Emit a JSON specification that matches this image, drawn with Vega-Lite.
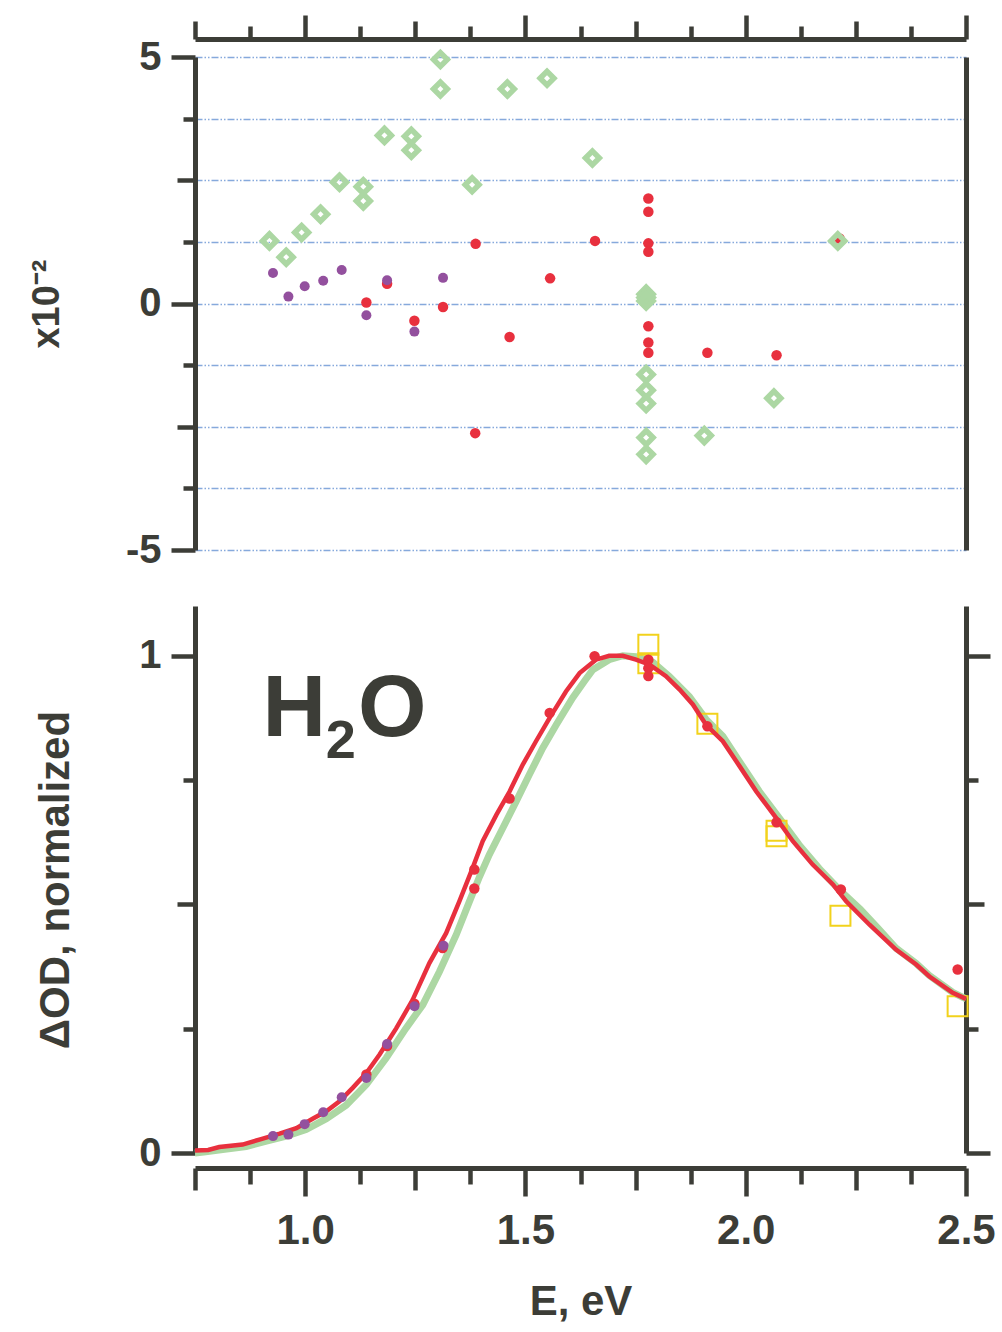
{
  "$schema": "https://vega.github.io/schema/vega-lite/v6.json",
  "background": "white",
  "padding": {"top": 12, "left": 28, "right": 8, "bottom": 8},
  "config": {
    "view": {"stroke": null},
    "font": "Liberation Sans",
    "axis": {
      "domainColor": "#3c3d37", "domainWidth": 5,
      "tickColor": "#3c3d37", "tickWidth": 4.5,
      "labelColor": "#3c3d37", "labelFont": "Liberation Sans", "labelFontSize": 42, "labelFontWeight": "bold",
      "titleColor": "#3c3d37", "titleFont": "Liberation Sans", "titleFontSize": 42, "titleFontWeight": "bold",
      "grid": false, "labelFlush": false, "labelOverlap": false
    }
  },
  "datasets": {
    "resid_green": [
      {"E": 0.919, "r": 1.27}, {"E": 0.957, "r": 0.94}, {"E": 0.992, "r": 1.44}, {"E": 1.035, "r": 1.81},
      {"E": 1.078, "r": 2.46}, {"E": 1.132, "r": 2.37}, {"E": 1.132, "r": 2.08}, {"E": 1.180, "r": 3.41},
      {"E": 1.241, "r": 3.39}, {"E": 1.241, "r": 3.11}, {"E": 1.307, "r": 4.95}, {"E": 1.307, "r": 4.35},
      {"E": 1.379, "r": 2.41}, {"E": 1.459, "r": 4.35}, {"E": 1.549, "r": 4.57}, {"E": 1.652, "r": 2.95},
      {"E": 1.774, "r": 0.19}, {"E": 1.774, "r": 0.12}, {"E": 1.774, "r": 0.05}, {"E": 1.774, "r": -1.44},
      {"E": 1.774, "r": -1.76}, {"E": 1.774, "r": -2.03}, {"E": 1.774, "r": -2.72}, {"E": 1.774, "r": -3.06},
      {"E": 1.906, "r": -2.68}, {"E": 2.064, "r": -1.92}, {"E": 2.209, "r": 1.27}
    ],
    "resid_red": [
      {"E": 1.139, "r": 0.02}, {"E": 1.186, "r": 0.40}, {"E": 1.248, "r": -0.35}, {"E": 1.313, "r": -0.07},
      {"E": 1.387, "r": 1.21}, {"E": 1.386, "r": -2.63}, {"E": 1.464, "r": -0.68}, {"E": 1.556, "r": 0.51},
      {"E": 1.658, "r": 1.27}, {"E": 1.779, "r": 2.13}, {"E": 1.779, "r": 1.86}, {"E": 1.779, "r": 1.22},
      {"E": 1.779, "r": 1.05}, {"E": 1.779, "r": -0.46}, {"E": 1.779, "r": -0.79}, {"E": 1.779, "r": -1.0},
      {"E": 1.913, "r": -1.0}, {"E": 2.070, "r": -1.05}, {"E": 2.213, "r": 1.32}
    ],
    "resid_purple": [
      {"E": 0.927, "r": 0.62}, {"E": 0.962, "r": 0.14}, {"E": 0.999, "r": 0.35}, {"E": 1.041, "r": 0.46},
      {"E": 1.083, "r": 0.68}, {"E": 1.139, "r": -0.24}, {"E": 1.186, "r": 0.47}, {"E": 1.248, "r": -0.57},
      {"E": 1.313, "r": 0.52}
    ],
    "fit_green": [
      {"E": 0.75, "v": 0.0}, {"E": 0.77, "v": 0.002}, {"E": 0.813, "v": 0.007}, {"E": 0.866, "v": 0.013},
      {"E": 0.912, "v": 0.024}, {"E": 0.957, "v": 0.034}, {"E": 1.002, "v": 0.047}, {"E": 1.048, "v": 0.069},
      {"E": 1.093, "v": 0.096}, {"E": 1.139, "v": 0.138}, {"E": 1.184, "v": 0.191}, {"E": 1.229, "v": 0.251},
      {"E": 1.267, "v": 0.298}, {"E": 1.305, "v": 0.365}, {"E": 1.343, "v": 0.439}, {"E": 1.373, "v": 0.506},
      {"E": 1.396, "v": 0.556}, {"E": 1.418, "v": 0.6}, {"E": 1.449, "v": 0.654}, {"E": 1.479, "v": 0.707},
      {"E": 1.509, "v": 0.761}, {"E": 1.539, "v": 0.814}, {"E": 1.57, "v": 0.861}, {"E": 1.607, "v": 0.915},
      {"E": 1.635, "v": 0.95}, {"E": 1.653, "v": 0.972}, {"E": 1.69, "v": 0.992}, {"E": 1.721, "v": 1.0},
      {"E": 1.751, "v": 0.998}, {"E": 1.789, "v": 0.987}, {"E": 1.827, "v": 0.958}, {"E": 1.872, "v": 0.918},
      {"E": 1.91, "v": 0.872}, {"E": 1.948, "v": 0.838}, {"E": 1.986, "v": 0.787}, {"E": 2.031, "v": 0.727},
      {"E": 2.076, "v": 0.674}, {"E": 2.121, "v": 0.62}, {"E": 2.167, "v": 0.572}, {"E": 2.212, "v": 0.53},
      {"E": 2.26, "v": 0.49}, {"E": 2.3, "v": 0.452}, {"E": 2.341, "v": 0.412}, {"E": 2.387, "v": 0.381},
      {"E": 2.417, "v": 0.357}, {"E": 2.47, "v": 0.323}, {"E": 2.5, "v": 0.31}
    ],
    "fit_red": [
      {"E": 0.75, "v": 0.005}, {"E": 0.78, "v": 0.006}, {"E": 0.805, "v": 0.012}, {"E": 0.858, "v": 0.017},
      {"E": 0.90, "v": 0.028}, {"E": 0.942, "v": 0.039}, {"E": 0.98, "v": 0.05}, {"E": 1.017, "v": 0.069},
      {"E": 1.048, "v": 0.084}, {"E": 1.078, "v": 0.104}, {"E": 1.108, "v": 0.131}, {"E": 1.139, "v": 0.161},
      {"E": 1.169, "v": 0.198}, {"E": 1.207, "v": 0.251}, {"E": 1.244, "v": 0.308}, {"E": 1.282, "v": 0.382},
      {"E": 1.32, "v": 0.442}, {"E": 1.35, "v": 0.506}, {"E": 1.38, "v": 0.573}, {"E": 1.403, "v": 0.627},
      {"E": 1.434, "v": 0.68}, {"E": 1.464, "v": 0.727}, {"E": 1.494, "v": 0.781}, {"E": 1.524, "v": 0.828},
      {"E": 1.555, "v": 0.875}, {"E": 1.592, "v": 0.928}, {"E": 1.623, "v": 0.965}, {"E": 1.66, "v": 0.992},
      {"E": 1.69, "v": 1.0}, {"E": 1.721, "v": 1.0}, {"E": 1.751, "v": 0.992}, {"E": 1.782, "v": 0.982},
      {"E": 1.819, "v": 0.959}, {"E": 1.85, "v": 0.932}, {"E": 1.88, "v": 0.902}, {"E": 1.91, "v": 0.861},
      {"E": 1.948, "v": 0.828}, {"E": 1.986, "v": 0.778}, {"E": 2.024, "v": 0.727}, {"E": 2.069, "v": 0.674},
      {"E": 2.107, "v": 0.627}, {"E": 2.152, "v": 0.58}, {"E": 2.198, "v": 0.54}, {"E": 2.228, "v": 0.506},
      {"E": 2.281, "v": 0.459}, {"E": 2.341, "v": 0.409}, {"E": 2.387, "v": 0.379}, {"E": 2.417, "v": 0.355},
      {"E": 2.47, "v": 0.322}, {"E": 2.5, "v": 0.31}
    ],
    "data_red": [
      {"E": 1.139, "v": 0.158}, {"E": 1.186, "v": 0.215}, {"E": 1.248, "v": 0.30}, {"E": 1.312, "v": 0.412},
      {"E": 1.384, "v": 0.57}, {"E": 1.384, "v": 0.532}, {"E": 1.464, "v": 0.713}, {"E": 1.555, "v": 0.885},
      {"E": 1.657, "v": 0.999}, {"E": 1.779, "v": 0.992}, {"E": 1.779, "v": 0.975}, {"E": 1.779, "v": 0.959},
      {"E": 1.913, "v": 0.858}, {"E": 2.07, "v": 0.665}, {"E": 2.216, "v": 0.53}, {"E": 2.481, "v": 0.369}
    ],
    "data_purple": [
      {"E": 0.927, "v": 0.034}, {"E": 0.962, "v": 0.037}, {"E": 0.999, "v": 0.058}, {"E": 1.041, "v": 0.082},
      {"E": 1.083, "v": 0.112}, {"E": 1.139, "v": 0.151}, {"E": 1.186, "v": 0.219}, {"E": 1.248, "v": 0.295},
      {"E": 1.314, "v": 0.417}
    ],
    "data_yellow": [
      {"E": 1.779, "v": 1.022}, {"E": 1.779, "v": 0.985}, {"E": 1.913, "v": 0.863}, {"E": 2.07, "v": 0.648},
      {"E": 2.07, "v": 0.637}, {"E": 2.215, "v": 0.477}, {"E": 2.481, "v": 0.295}
    ]
  },
  "spacing": 56,
  "bounds": "flush",
  "vconcat": [
    {
      "width": 771,
      "height": 493,
      "resolve": {"axis": {"y": "independent"}},
      "layer": [
        {
          "data": {"name": "resid_red"},
          "mark": {"type": "circle", "size": 110, "color": "#e8303e", "opacity": 1},
          "encoding": {
            "x": {"field": "E", "type": "quantitative",
              "scale": {"domain": [0.75, 2.5], "nice": false, "zero": false},
              "axis": {"orient": "top", "offset": 18, "title": null, "labels": false,
                "values": [0.75, 0.875, 1.0, 1.125, 1.25, 1.375, 1.5, 1.625, 1.75, 1.875, 2.0, 2.125, 2.25, 2.375, 2.5],
                "tickSize": {"condition": [{"test": "datum.value % 0.5 === 0", "value": 24}, {"test": "datum.value % 0.25 === 0", "value": 18}], "value": 13}}},
            "y": {"field": "r", "type": "quantitative",
              "scale": {"domain": [-5, 5], "nice": false, "zero": false},
              "axis": {"orient": "left", "title": "x10⁻²", "titleFontSize": 38, "titlePadding": 59,
                "values": [-5, -3.75, -2.5, -1.25, 0, 1.25, 2.5, 3.75, 5],
                "labelExpr": "datum.value % 5 === 0 ? toString(datum.value) : ''",
                "labelPadding": 10, "labelFontSize": 40,
                "grid": true, "gridColor": "#86a9dc", "gridWidth": 1.3, "gridDash": [7, 2, 1.5, 2, 1.5, 2],
                "tickSize": {"condition": [{"test": "datum.value % 5 === 0", "value": 24}, {"test": "datum.value % 2.5 === 0", "value": 18}], "value": 12}}}
          }
        },
        {
          "data": {"name": "resid_purple"},
          "mark": {"type": "circle", "size": 100, "color": "#93509e", "opacity": 1},
          "encoding": {
            "x": {"field": "E", "type": "quantitative"},
            "y": {"field": "r", "type": "quantitative",
              "axis": {"orient": "right", "title": null, "labels": false, "ticks": false, "grid": false}}
          }
        },
        {
          "data": {"name": "resid_green"},
          "mark": {"type": "point", "shape": "diamond", "filled": false, "size": 190, "strokeWidth": 5.5, "color": "#acd7a3", "opacity": 1},
          "encoding": {
            "x": {"field": "E", "type": "quantitative"},
            "y": {"field": "r", "type": "quantitative", "axis": null}
          }
        }
      ]
    },
    {
      "width": 771,
      "height": 547,
      "resolve": {"axis": {"y": "independent"}},
      "layer": [
        {
          "data": {"name": "fit_green"},
          "mark": {"type": "line", "color": "#acd7a3", "strokeWidth": 7},
          "encoding": {
            "x": {"field": "E", "type": "quantitative",
              "scale": {"domain": [0.75, 2.5], "nice": false, "zero": false},
              "axis": {"orient": "bottom", "offset": 15, "title": "E, eV", "titlePadding": 30,
                "values": [0.75, 0.875, 1.0, 1.125, 1.25, 1.375, 1.5, 1.625, 1.75, 1.875, 2.0, 2.125, 2.25, 2.375, 2.5],
                "labelExpr": "datum.value % 0.5 === 0 ? format(datum.value, '.1f') : ''",
                "labelPadding": 14,
                "tickSize": {"condition": [{"test": "datum.value % 0.5 === 0", "value": 28}, {"test": "datum.value % 0.25 === 0", "value": 22}], "value": 16}}},
            "y": {"field": "v", "type": "quantitative",
              "scale": {"domain": [0, 1.1], "nice": false, "zero": false},
              "axis": {"orient": "left", "title": "ΔOD, normalized", "titleFontSize": 42, "titlePadding": 61,
                "values": [0, 0.25, 0.5, 0.75, 1],
                "labelExpr": "datum.value % 1 === 0 ? toString(datum.value) : ''",
                "labelPadding": 10, "labelFontSize": 40,
                "tickSize": {"condition": [{"test": "datum.value % 1 === 0", "value": 24}, {"test": "datum.value % 0.5 === 0", "value": 18}], "value": 12}}}
          }
        },
        {
          "data": {"name": "data_yellow"},
          "mark": {"type": "square", "filled": false, "size": 400, "strokeWidth": 2, "color": "#f2d21c", "opacity": 1},
          "encoding": {
            "x": {"field": "E", "type": "quantitative"},
            "y": {"field": "v", "type": "quantitative",
              "axis": {"orient": "right", "title": null, "labels": false,
                "values": [0, 0.25, 0.5, 0.75, 1],
                "tickSize": {"condition": [{"test": "datum.value % 1 === 0", "value": 24}, {"test": "datum.value % 0.5 === 0", "value": 18}], "value": 12}}}
          }
        },
        {
          "data": {"name": "fit_red"},
          "mark": {"type": "line", "color": "#e8303e", "strokeWidth": 4.5},
          "encoding": {
            "x": {"field": "E", "type": "quantitative"},
            "y": {"field": "v", "type": "quantitative", "axis": null}
          }
        },
        {
          "data": {"name": "data_red"},
          "mark": {"type": "circle", "size": 110, "color": "#e8303e", "opacity": 1},
          "encoding": {
            "x": {"field": "E", "type": "quantitative"},
            "y": {"field": "v", "type": "quantitative", "axis": null}
          }
        },
        {
          "data": {"name": "data_purple"},
          "mark": {"type": "circle", "size": 100, "color": "#93509e", "opacity": 1},
          "encoding": {
            "x": {"field": "E", "type": "quantitative"},
            "y": {"field": "v", "type": "quantitative", "axis": null}
          }
        },
        {
          "data": {"values": [{"t": "H"}]},
          "mark": {"type": "text", "font": "Liberation Sans", "fontWeight": "bold", "fontSize": 88, "color": "#3c3d37", "align": "left", "baseline": "alphabetic"},
          "encoding": {
            "text": {"field": "t"},
            "x": {"datum": 0.903, "type": "quantitative"},
            "y": {"datum": 0.838, "type": "quantitative", "axis": null}
          }
        },
        {
          "data": {"values": [{"t": "2"}]},
          "mark": {"type": "text", "font": "Liberation Sans", "fontWeight": "bold", "fontSize": 54, "color": "#3c3d37", "align": "left", "baseline": "alphabetic"},
          "encoding": {
            "text": {"field": "t"},
            "x": {"datum": 1.047, "type": "quantitative"},
            "y": {"datum": 0.794, "type": "quantitative", "axis": null}
          }
        },
        {
          "data": {"values": [{"t": "O"}]},
          "mark": {"type": "text", "font": "Liberation Sans", "fontWeight": "bold", "fontSize": 88, "color": "#3c3d37", "align": "left", "baseline": "alphabetic"},
          "encoding": {
            "text": {"field": "t"},
            "x": {"datum": 1.120, "type": "quantitative"},
            "y": {"datum": 0.838, "type": "quantitative", "axis": null}
          }
        }
      ]
    }
  ]
}
